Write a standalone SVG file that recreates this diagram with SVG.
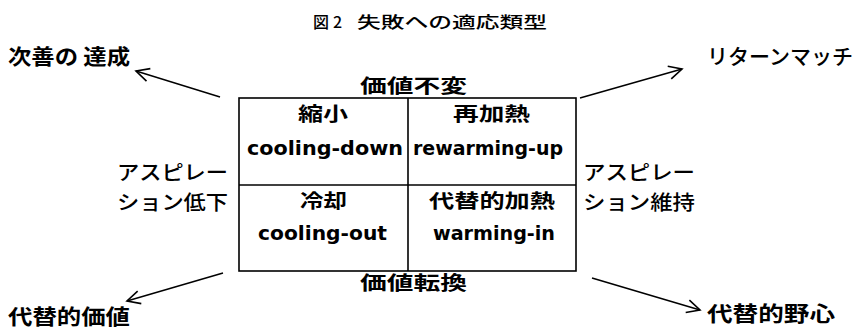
<svg xmlns="http://www.w3.org/2000/svg" width="859" height="330" viewBox="0 0 859 330">
<style>
text{font-family:"Noto Sans CJK JP","Noto Sans",sans-serif;fill:#000}
.t{font-size:16px;font-weight:500}
.ax{font-size:19px;font-weight:700}
.cell{font-size:19px;font-weight:700}
.en{font-family:"DejaVu Sans","Noto Sans CJK JP",sans-serif;font-size:19px;font-weight:700}
.side{font-size:20px;font-weight:500}
.out{font-size:21px;font-weight:700}
.outr{font-size:21px;font-weight:500}
.box{fill:#fff;stroke:#000;stroke-width:1.6}
.grid{stroke:#000;stroke-width:1.6}
.arr{stroke:#000;stroke-width:1.5;fill:none;marker-end:url(#ah)}
</style>
<defs>
<marker id="ah" markerUnits="userSpaceOnUse" markerWidth="18" markerHeight="16" refX="15" refY="8" orient="auto">
<path d="M2,1.5 L15,8 L2,14.5" fill="none" stroke="#000" stroke-width="1.6"/>
</marker>
</defs>
<rect width="859" height="330" fill="#fff"/>
<g id="title">
<text class="t" y="28"><tspan x="313">図</tspan><tspan x="333">2</tspan><tspan x="357" textLength="190" lengthAdjust="spacingAndGlyphs">失敗への適応類型</tspan></text>
</g>
<g id="matrix">
<rect class="box" x="239" y="98" width="337" height="173"/>
<line class="grid" x1="408" y1="98" x2="408" y2="271"/>
<line class="grid" x1="239" y1="185" x2="576" y2="185"/>
</g>
<g id="cell-shukushou">
<text class="cell" x="298" y="121" textLength="50" lengthAdjust="spacingAndGlyphs">縮小</text>
<text class="en" x="247" y="155" textLength="156" lengthAdjust="spacingAndGlyphs">cooling-down</text>
</g>
<g id="cell-saikanetsu">
<text class="cell" x="453" y="121" textLength="77" lengthAdjust="spacingAndGlyphs">再加熱</text>
<text class="en" x="413" y="155" textLength="150" lengthAdjust="spacingAndGlyphs">rewarming-up</text>
</g>
<g id="cell-reikyaku">
<text class="cell" x="300" y="208" textLength="47" lengthAdjust="spacingAndGlyphs">冷却</text>
<text class="en" x="258" y="240" textLength="129" lengthAdjust="spacingAndGlyphs">cooling-out</text>
</g>
<g id="cell-daitaiteki-kanetsu">
<text class="cell" x="429" y="208" textLength="126" lengthAdjust="spacingAndGlyphs">代替的加熱</text>
<text class="en" x="433" y="240" textLength="122" lengthAdjust="spacingAndGlyphs">warming-in</text>
</g>
<g id="axis-top"><text class="ax" x="360" y="93" textLength="107" lengthAdjust="spacingAndGlyphs">価値不変</text></g>
<g id="axis-bottom"><text class="ax" x="360" y="290" textLength="107" lengthAdjust="spacingAndGlyphs">価値転換</text></g>
<g id="axis-left">
<text class="side" x="117" y="180" textLength="111" lengthAdjust="spacingAndGlyphs">アスピレー</text>
<text class="side" x="117" y="210" textLength="111" lengthAdjust="spacingAndGlyphs">ション低下</text>
</g>
<g id="axis-right">
<text class="side" x="583" y="180" textLength="112" lengthAdjust="spacingAndGlyphs">アスピレー</text>
<text class="side" x="583" y="210" textLength="112" lengthAdjust="spacingAndGlyphs">ション維持</text>
</g>
<g id="out-jizen"><text class="out" x="8" y="64" textLength="122" lengthAdjust="spacingAndGlyphs">次善の 達成</text></g>
<g id="out-return"><text class="outr" x="707" y="64" textLength="146" lengthAdjust="spacingAndGlyphs">リターンマッチ</text></g>
<g id="out-daitai-kachi"><text class="out" x="8" y="324" textLength="122" lengthAdjust="spacingAndGlyphs">代替的価値</text></g>
<g id="out-daitai-yashin"><text class="out" x="707" y="321" textLength="128" lengthAdjust="spacingAndGlyphs">代替的野心</text></g>
<g id="connectors">
<line class="arr" x1="220" y1="97" x2="136" y2="71"/>
<line class="arr" x1="580" y1="98" x2="682" y2="69"/>
<line class="arr" x1="223" y1="273" x2="127" y2="301"/>
<line class="arr" x1="592" y1="278" x2="700" y2="310"/>
</g>
</svg>
